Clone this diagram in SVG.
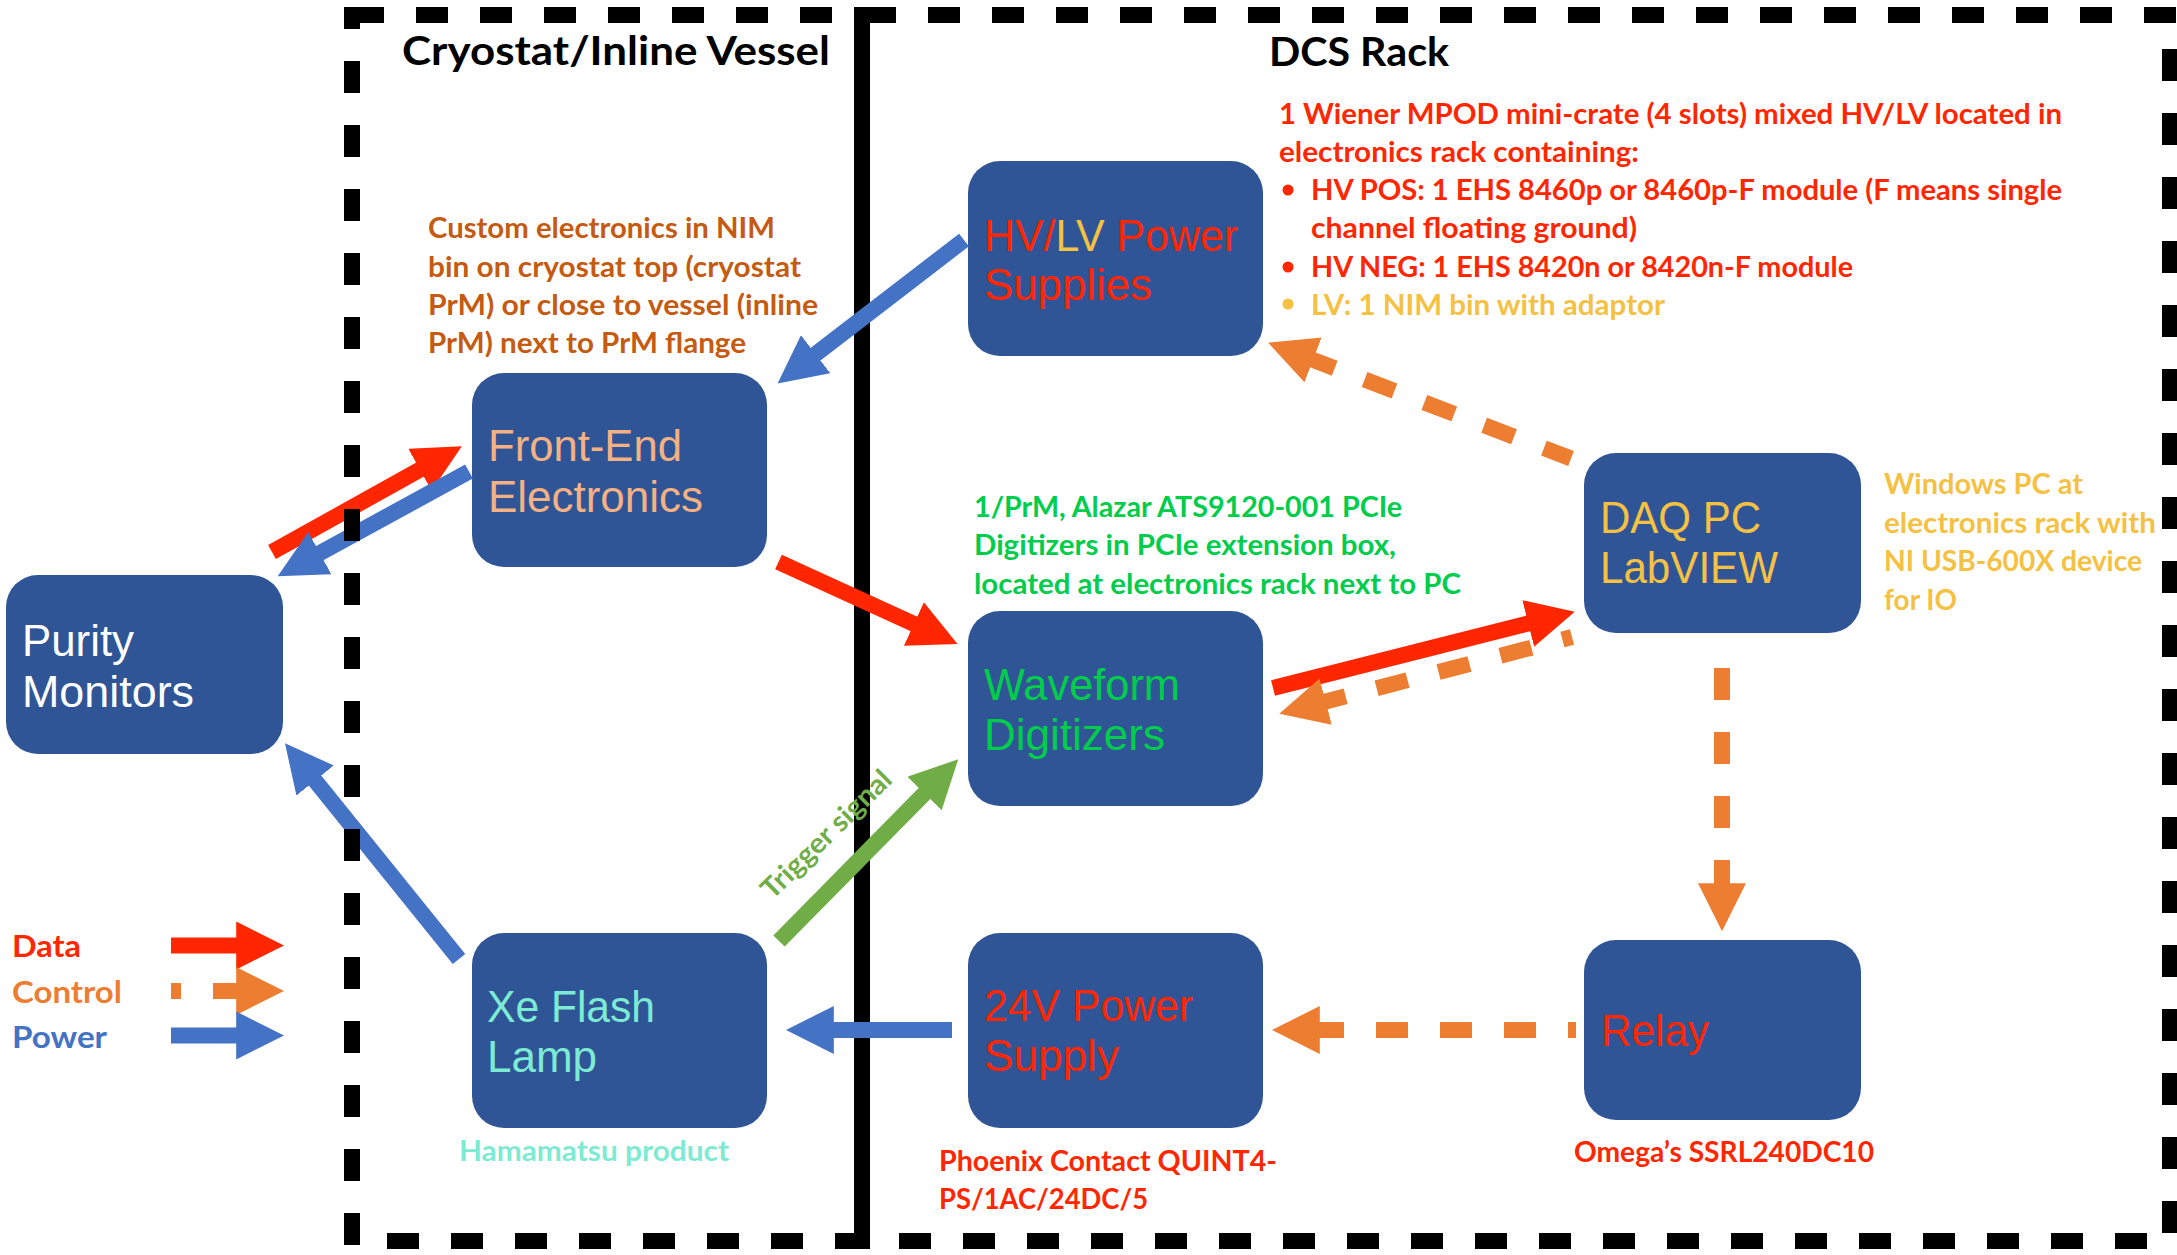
<svg xmlns="http://www.w3.org/2000/svg" width="2177" height="1255" viewBox="0 0 2177 1255">
<style>
  .box{fill:#2F5597;}
  .nt{font-family:'Liberation Sans',Arial,sans-serif;font-size:45px;}
  .an{font-family:Lato,'Open Sans','Liberation Sans',sans-serif;font-weight:700;font-size:28px;}
  .ttl{font-family:Lato,'Open Sans','Liberation Sans',sans-serif;font-weight:700;font-size:40px;fill:#000;}
  .lg{font-family:Lato,'Open Sans','Liberation Sans',sans-serif;font-weight:700;font-size:30px;}
  .red{fill:#FF2600;} .org{fill:#ED7D31;} .blu{fill:#4472C4;} .grn{fill:#00CD4C;}
  .yel{fill:#F5C143;} .brn{fill:#C55A11;} .aqu{fill:#7DEBD3;} .pch{fill:#F4B183;} .wht{fill:#FFFFFF;}
  .c{fill:none;stroke-width:16;stroke-linecap:butt;}
  .cr{stroke:#FF2600;marker-end:url(#hr);}
  .cb{stroke:#4472C4;marker-end:url(#hb);}
  .co{stroke:#ED7D31;marker-end:url(#ho);stroke-dasharray:32 32;}
  .cg{stroke:#70AD47;marker-end:url(#hg);}
  .bd{fill:none;stroke:#000;stroke-width:16;}
  .dsh{stroke-dasharray:32 32;}
</style>
<defs>
  <marker id="hr" viewBox="0 0 3 3" refX="0.05" refY="1.5" markerWidth="3" markerHeight="3" markerUnits="strokeWidth" orient="auto"><path d="M0,0 L3,1.5 L0,3 Z" fill="#FF2600"/></marker>
  <marker id="hb" viewBox="0 0 3 3" refX="0.05" refY="1.5" markerWidth="3" markerHeight="3" markerUnits="strokeWidth" orient="auto"><path d="M0,0 L3,1.5 L0,3 Z" fill="#4472C4"/></marker>
  <marker id="ho" viewBox="0 0 3 3" refX="0.05" refY="1.5" markerWidth="3" markerHeight="3" markerUnits="strokeWidth" orient="auto"><path d="M0,0 L3,1.5 L0,3 Z" fill="#ED7D31"/></marker>
  <marker id="hg" viewBox="0 0 3 3" refX="0.05" refY="1.5" markerWidth="3" markerHeight="3" markerUnits="strokeWidth" orient="auto"><path d="M0,0 L3,1.5 L0,3 Z" fill="#70AD47"/></marker>
</defs>
<rect width="2177" height="1255" fill="#FFFFFF"/>

<g id="borders-back">
  <line class="bd" x1="862" y1="7" x2="862" y2="1249"/>
  <line class="bd dsh" x1="352" y1="15" x2="2178" y2="15"/>
  <line class="bd dsh" x1="387" y1="1241" x2="2150" y2="1241"/>
  <line class="bd dsh" x1="2170" y1="49" x2="2170" y2="1241"/>
</g>

<g id="titles">
  <text class="ttl" x="402" y="65" textLength="428" lengthAdjust="spacingAndGlyphs">Cryostat/Inline Vessel</text>
  <text class="ttl" x="1269" y="66" textLength="180" lengthAdjust="spacingAndGlyphs">DCS Rack</text>
</g>

<g id="nodes">
  <g id="purity-monitors">
    <rect class="box" x="6" y="575" width="277" height="179" rx="32"/>
    <text class="nt wht" x="22" y="656" textLength="112" lengthAdjust="spacingAndGlyphs">Purity</text>
    <text class="nt wht" x="22" y="707" textLength="172" lengthAdjust="spacingAndGlyphs">Monitors</text>
  </g>
  <g id="front-end-electronics">
    <rect class="box" x="472" y="373" width="295" height="194" rx="32"/>
    <text class="nt pch" x="488" y="461" textLength="194" lengthAdjust="spacingAndGlyphs">Front-End</text>
    <text class="nt pch" x="488" y="512" textLength="215" lengthAdjust="spacingAndGlyphs">Electronics</text>
  </g>
  <g id="xe-flash-lamp">
    <rect class="box" x="472" y="933" width="295" height="195" rx="32"/>
    <text class="nt aqu" x="487" y="1022" textLength="168" lengthAdjust="spacingAndGlyphs">Xe Flash</text>
    <text class="nt aqu" x="487" y="1072" textLength="110" lengthAdjust="spacingAndGlyphs">Lamp</text>
  </g>
  <g id="hvlv-power-supplies">
    <rect class="box" x="968" y="161" width="295" height="195" rx="32"/>
    <text class="nt" x="984" y="251" textLength="254" lengthAdjust="spacingAndGlyphs"><tspan class="red">HV/</tspan><tspan class="yel">LV</tspan><tspan class="red"> Power</tspan></text>
    <text class="nt red" x="984" y="300" textLength="168" lengthAdjust="spacingAndGlyphs">Supplies</text>
  </g>
  <g id="waveform-digitizers">
    <rect class="box" x="968" y="611" width="295" height="195" rx="32"/>
    <text class="nt grn" x="984" y="700" textLength="196" lengthAdjust="spacingAndGlyphs">Waveform</text>
    <text class="nt grn" x="984" y="750" textLength="181" lengthAdjust="spacingAndGlyphs">Digitizers</text>
  </g>
  <g id="power-supply-24v">
    <rect class="box" x="968" y="933" width="295" height="195" rx="32"/>
    <text class="nt red" x="984" y="1021" textLength="209" lengthAdjust="spacingAndGlyphs">24V Power</text>
    <text class="nt red" x="984" y="1071" textLength="135" lengthAdjust="spacingAndGlyphs">Supply</text>
  </g>
  <g id="daq-pc">
    <rect class="box" x="1584" y="453" width="277" height="180" rx="32"/>
    <text class="nt yel" x="1600" y="533" textLength="161" lengthAdjust="spacingAndGlyphs">DAQ PC</text>
    <text class="nt yel" x="1600" y="583" textLength="178" lengthAdjust="spacingAndGlyphs">LabVIEW</text>
  </g>
  <g id="relay">
    <rect class="box" x="1584" y="940" width="277" height="180" rx="32"/>
    <text class="nt red" x="1601" y="1046" textLength="108" lengthAdjust="spacingAndGlyphs">Relay</text>
  </g>
</g>

<g id="connectors">
  <line class="c cr" x1="272" y1="552" x2="420.6" y2="469.3"/>
  <line class="c cb" x1="469" y1="471.5" x2="319.1" y2="553.5"/>
  <line class="c cb" x1="964" y1="240" x2="815" y2="354.7"/>
  <line class="c cr" x1="778.5" y1="562" x2="914.6" y2="624.3"/>
  <line class="c cg" x1="779" y1="941" x2="925.1" y2="792.9"/>
  <line class="c cb" x1="459" y1="959" x2="314.6" y2="779.9"/>
  <line class="c cb" x1="952" y1="1030" x2="833" y2="1030"/>
  <line class="c cr" x1="1273" y1="688" x2="1529" y2="623.3"/>
  <line class="c co" x1="1572" y1="637" x2="1324.9" y2="701.8" stroke-dashoffset="22"/>
  <line class="c co" x1="1571" y1="458.5" x2="1312.3" y2="359.6" stroke-dashoffset="3"/>
  <line class="c co" x1="1722" y1="668" x2="1722" y2="884"/>
  <line class="c co" x1="1576" y1="1030" x2="1319" y2="1030" stroke-dashoffset="24"/>
  <text class="an" x="833" y="841" font-size="25" fill="#70AD47" text-anchor="middle" textLength="170" lengthAdjust="spacingAndGlyphs" transform="rotate(-44.5 833 841)">Trigger signal</text>
</g>

<g id="borders-front">
  <line class="bd" x1="352" y1="7" x2="352" y2="1249" stroke-dasharray="32 32" stroke-dashoffset="10"/>
</g>

<g id="annotations">
  <g class="an brn">
    <text x="428" y="238" textLength="347" lengthAdjust="spacingAndGlyphs">Custom electronics in NIM</text>
    <text x="428" y="277" textLength="373" lengthAdjust="spacingAndGlyphs">bin on cryostat top (cryostat</text>
    <text x="428" y="315" textLength="390" lengthAdjust="spacingAndGlyphs">PrM) or close to vessel (inline</text>
    <text x="428" y="353" textLength="318" lengthAdjust="spacingAndGlyphs">PrM) next to PrM flange</text>
  </g>
  <g class="an red">
    <text x="1279" y="123.5" textLength="783" lengthAdjust="spacingAndGlyphs">1 Wiener MPOD mini-crate (4 slots) mixed HV/LV located in</text>
    <text x="1279" y="162" textLength="360" lengthAdjust="spacingAndGlyphs">electronics rack containing:</text>
    <circle cx="1288" cy="190" r="5.5"/>
    <text x="1311" y="200" textLength="751" lengthAdjust="spacingAndGlyphs">HV POS: 1 EHS 8460p or 8460p-F module (F means single</text>
    <text x="1311" y="238" textLength="326" lengthAdjust="spacingAndGlyphs">channel floating ground)</text>
    <circle cx="1288" cy="267" r="5.5"/>
    <text x="1311" y="277" textLength="542" lengthAdjust="spacingAndGlyphs">HV NEG: 1 EHS 8420n or 8420n-F module</text>
  </g>
  <g class="an yel">
    <circle cx="1288" cy="304" r="5.5"/>
    <text x="1311" y="315" textLength="354" lengthAdjust="spacingAndGlyphs">LV: 1 NIM bin with adaptor</text>
  </g>
  <g class="an grn">
    <text x="974" y="516.5" textLength="428" lengthAdjust="spacingAndGlyphs">1/PrM, Alazar ATS9120-001 PCIe</text>
    <text x="974" y="555" textLength="422" lengthAdjust="spacingAndGlyphs">Digitizers in PCIe extension box,</text>
    <text x="974" y="593.5" textLength="487" lengthAdjust="spacingAndGlyphs">located at electronics rack next to PC</text>
  </g>
  <g class="an yel">
    <text x="1884" y="494" textLength="199" lengthAdjust="spacingAndGlyphs">Windows PC at</text>
    <text x="1884" y="533" textLength="272" lengthAdjust="spacingAndGlyphs">electronics rack with</text>
    <text x="1884" y="571" textLength="258" lengthAdjust="spacingAndGlyphs">NI USB-600X device</text>
    <text x="1884" y="610" textLength="73" lengthAdjust="spacingAndGlyphs">for IO</text>
  </g>
  <text class="an aqu" x="459" y="1161" textLength="270" lengthAdjust="spacingAndGlyphs">Hamamatsu product</text>
  <g class="an red">
    <text x="939" y="1170.5" textLength="338" lengthAdjust="spacingAndGlyphs">Phoenix Contact QUINT4-</text>
    <text x="939" y="1209" textLength="209" lengthAdjust="spacingAndGlyphs">PS/1AC/24DC/5</text>
    <text x="1574" y="1161.5" textLength="300" lengthAdjust="spacingAndGlyphs">Omega’s SSRL240DC10</text>
  </g>
</g>

<g id="legend">
  <text class="lg red" x="12" y="957" textLength="69" lengthAdjust="spacingAndGlyphs">Data</text>
  <text class="lg org" x="12" y="1003" textLength="110" lengthAdjust="spacingAndGlyphs">Control</text>
  <text class="lg blu" x="12" y="1048" textLength="95" lengthAdjust="spacingAndGlyphs">Power</text>
  <line class="c cr" x1="171" y1="945.5" x2="237" y2="945.5"/>
  <line class="c" stroke="#ED7D31" marker-end="url(#ho)" stroke-dasharray="10 32 24" x1="171" y1="991" x2="237" y2="991"/>
  <line class="c cb" x1="171" y1="1035.5" x2="237" y2="1035.5"/>
</g>
</svg>
